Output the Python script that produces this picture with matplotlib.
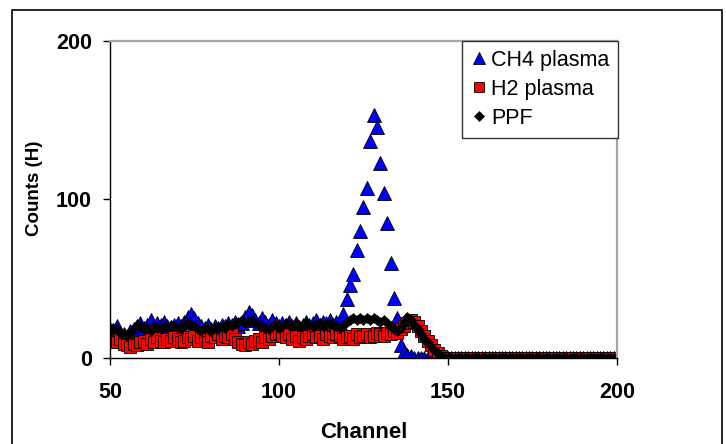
"""
Depth profile counts (H) vs channel for CH4 plasma, H2 plasma and PPF
"""

import matplotlib
matplotlib.use("Agg")
import matplotlib.pyplot as plt
from matplotlib.patches import Rectangle

plt.rcParams['font.family'] = ['Liberation Sans', 'DejaVu Sans']

# Channel axis
channel = list(range(50, 201))

# CH4 plasma (channels 50..200)
ch4_plasma = [
    18, 17, 20, 16, 15, 14, 17, 18, 20, 22,   # 50-59
    19, 21, 24, 20, 22, 21, 23, 20, 19, 21,   # 60-69
    22, 20, 23, 26, 28, 25, 22, 20, 19, 21,   # 70-79
    18, 20, 19, 21, 20, 22, 21, 23, 20, 22,   # 80-89
    26, 29, 27, 24, 22, 25, 23, 21, 24, 22,   # 90-99
    20, 22, 21, 23, 20, 22, 19, 21, 23, 21,   # 100-109
    22, 24, 21, 23, 22, 24, 21, 23, 22, 28,   # 110-119
    37, 46, 53, 68, 80, 95, 107, 137, 153, 146,   # 120-129
    123, 104, 85, 60, 38, 25, 8, 4, 2, 1,     # 130-139
    0, 0, 0, 0, 0, 0, 0, 0, 0, 0,             # 140-149
    0, 0, 0, 0, 0, 0, 0, 0, 0, 0,             # 150-159
    0, 0, 0, 0, 0, 0, 0, 0, 0, 0,             # 160-169
    0, 0, 0, 0, 0, 0, 0, 0, 0, 0,             # 170-179
    0, 0, 0, 0, 0, 0, 0, 0, 0, 0,             # 180-189
    0, 0, 0, 0, 0, 0, 0, 0, 0, 0,             # 190-199
    0,                                        # 200
]

# H2 plasma (channels 50..200)
h2_plasma = [
    12, 11, 10, 12, 9, 8, 7, 9, 8, 10,        # 50-59
    11, 9, 12, 10, 13, 11, 10, 12, 11, 13,    # 60-69
    12, 10, 11, 13, 12, 14, 11, 13, 12, 10,   # 70-79
    14, 13, 15, 12, 14, 13, 15, 12, 10, 9,    # 80-89
    8, 10, 9, 11, 12, 10, 13, 12, 14, 15,     # 90-99
    16, 14, 13, 15, 12, 14, 11, 13, 12, 14,   # 100-109
    15, 13, 14, 12, 15, 14, 13, 15, 14, 12,   # 110-119
    13, 14, 12, 15, 13, 14, 15, 13, 14, 16,   # 120-129
    15, 14, 16, 15, 17, 16, 18, 20, 22, 24,   # 130-139
    23, 20, 17, 14, 11, 8, 5, 3, 1, 0,        # 140-149
    0, 0, 0, 0, 0, 0, 0, 0, 0, 0,             # 150-159
    0, 0, 0, 0, 0, 0, 0, 0, 0, 0,             # 160-169
    0, 0, 0, 0, 0, 0, 0, 0, 0, 0,             # 170-179
    0, 0, 0, 0, 0, 0, 0, 0, 0, 0,             # 180-189
    0, 0, 0, 0, 0, 0, 0, 0, 0, 0,             # 190-199
    0,                                        # 200
]

# PPF (channels 50..200)
ppf = [
    17, 19, 18, 16, 15, 14, 16, 19, 21, 20,   # 50-59
    18, 19, 17, 20, 19, 18, 20, 19, 21, 20,   # 60-69
    19, 18, 20, 22, 21, 20, 18, 17, 19, 18,   # 70-79
    17, 19, 18, 20, 19, 21, 20, 22, 23, 24,   # 80-89
    22, 23, 24, 22, 21, 20, 19, 18, 20, 21,   # 90-99
    19, 20, 22, 21, 20, 22, 21, 20, 22, 21,   # 100-109
    20, 21, 22, 20, 21, 22, 21, 20, 19, 21,   # 110-119
    23, 24, 25, 24, 25, 24, 25, 24, 25, 24,   # 120-129
    23, 24, 22, 20, 18, 17, 19, 22, 26, 24,   # 130-139
    21, 18, 15, 12, 10, 7, 5, 3, 1, 0,        # 140-149
    0, 0, 0, 0, 0, 0, 0, 0, 0, 0,             # 150-159
    0, 0, 0, 0, 0, 0, 0, 0, 0, 0,             # 160-169
    0, 0, 0, 0, 0, 0, 0, 0, 0, 0,             # 170-179
    0, 0, 0, 0, 0, 0, 0, 0, 0, 0,             # 180-189
    0, 0, 0, 0, 0, 0, 0, 0, 0, 0,             # 190-199
    0,                                        # 200
]

x_ticks = [50, 100, 150, 200]
y_ticks = [0, 100, 200]

fig = plt.figure(figsize=(7.26, 4.44), dpi=100)
ax = fig.add_axes([0.1515, 0.1937, 0.6983, 0.714])

# outer chart border
fig.patches.append(Rectangle((0.0165, -0.02), 0.978, 0.9975, transform=fig.transFigure,
                             fill=False, edgecolor='black', linewidth=1.2))

ax.plot(channel, ch4_plasma, linestyle='none', marker='^', markersize=10,
        markerfacecolor='#0000FF', markeredgecolor='black', markeredgewidth=0.6,
        label='CH4 plasma')
ax.plot(channel, h2_plasma, linestyle='none', marker='s', markersize=8.5,
        markerfacecolor='#FF0000', markeredgecolor='black', markeredgewidth=0.6,
        label='H2 plasma')
ax.plot(channel, ppf, linestyle='none', marker='D', markersize=5.5,
        markerfacecolor='black', markeredgecolor='black', markeredgewidth=0.5,
        label='PPF')

ax.set_xlim(50, 200)
ax.set_ylim(0, 200)
ax.set_xticks(x_ticks)
ax.set_yticks(y_ticks)

for side in ['left', 'bottom']:
    ax.spines[side].set_color('black')
    ax.spines[side].set_linewidth(1.0)
for side in ['top', 'right']:
    ax.spines[side].set_color('#a6a6a6')
    ax.spines[side].set_linewidth(1.6)

ax.tick_params(axis='both', direction='out', length=5, width=1, colors='black',
               labelsize=15.5)
ax.tick_params(axis='x', pad=12)
ax.tick_params(axis='y', pad=8)
for lbl in ax.get_xticklabels() + ax.get_yticklabels():
    lbl.set_fontweight('bold')

ax.set_xlabel('Channel', fontsize=16, fontweight='bold', labelpad=14)
ax.set_ylabel('Counts (H)', fontsize=13.5, fontweight='bold')
ax.yaxis.set_label_coords(-0.132, 0.536)

leg = ax.legend(loc='upper right', bbox_to_anchor=(1.002, 1.0), borderaxespad=0,
                fontsize=15.5, frameon=True, fancybox=False, handlelength=0.75,
                handletextpad=0.2, labelspacing=0.38, borderpad=0.4,
                markerscale=0.85)
leg.get_frame().set_edgecolor('#333333')
leg.get_frame().set_linewidth(1.0)
leg.get_frame().set_alpha(1)

fig.savefig('out.png', dpi=100)
